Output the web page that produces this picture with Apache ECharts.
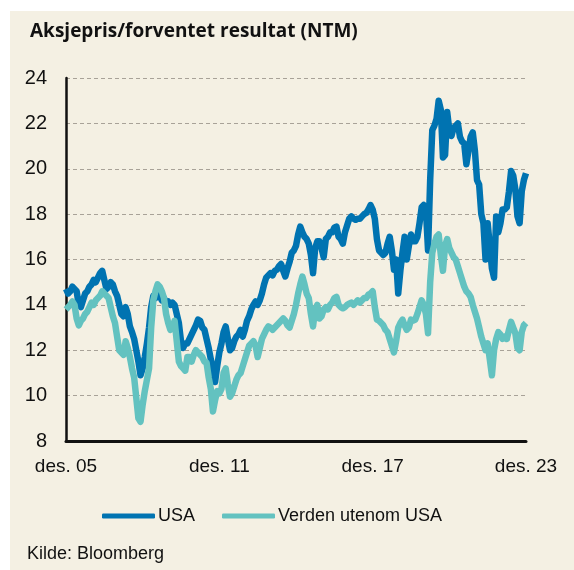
<!DOCTYPE html>
<html>
<head>
<meta charset="utf-8">
<script src="https://cdn.jsdelivr.net/npm/echarts@6/dist/echarts.min.js"></script>
<style>
  html, body { margin: 0; padding: 0; background: #fff; }
  #chart { width: 574px; height: 570px; }
</style>
</head>
<body>
<div id="chart"></div>
<script>
// månedlige observasjoner, des. 2005 - des. 2023
var usa = [
  14.7, 14.5, 14.6, 14.8, 14.7, 14.6, 14.0, 13.9, 14.2, 14.5, 14.6, 14.8,
  14.9, 15.1, 15.0, 15.2, 15.4, 15.5, 15.1, 14.7, 14.8, 15.0, 14.9, 14.6,
  14.4, 14.0, 13.6, 13.5, 13.9, 13.6, 13.05, 12.8, 12.5, 12.0, 11.5, 10.9,
  11.2, 11.7, 12.3, 13.0, 13.9, 14.4, 14.3, 14.6, 14.4, 14.2, 14.3, 14.1,
  14.15, 14.0, 14.1, 14.0, 13.6, 13.2, 12.4, 12.1, 12.3, 12.3, 12.5, 12.7,
  12.9, 13.1, 13.35, 13.3, 13.0, 12.9, 12.5, 12.1, 11.6, 11.2, 10.6, 11.3,
  11.9, 12.3, 12.8, 13.05, 12.5, 12.0, 12.1, 12.4, 12.6, 12.7, 12.9, 12.6,
  12.9, 13.3, 13.5, 13.8, 14.0, 14.15, 14.0, 14.2, 14.5, 14.9, 15.2, 15.3,
  15.4, 15.3, 15.5, 15.55, 15.7, 15.8, 15.5, 15.25, 15.6, 15.9, 16.3, 16.4,
  16.6, 17.1, 17.45, 17.2, 17.0, 16.9, 16.7, 16.2, 15.4, 16.5, 16.8, 16.8,
  16.5, 16.1, 16.9, 17.0, 17.2, 17.2, 17.4, 17.45, 17.0, 16.9, 16.7, 17.2,
  17.5, 17.8, 17.9, 17.8, 17.75, 17.8, 17.8, 17.9, 18.0, 18.05, 18.2, 18.4,
  18.2, 17.8, 16.9, 16.4, 16.3, 16.2, 16.3, 16.7, 17.0, 16.4, 15.55, 16.0,
  14.5, 15.5, 16.3, 17.0, 16.0, 16.6, 17.1, 16.8, 16.8, 17.0, 17.6, 18.3,
  18.4, 18.2, 16.4, 19.5, 21.7, 21.9, 22.2, 23.0, 22.6, 20.5, 20.6, 22.5,
  21.7, 21.45, 21.8, 21.9, 22.0, 21.4, 21.2, 21.1, 20.2, 20.8, 21.4, 21.6,
  20.8, 19.5, 19.3, 18.0, 17.6, 16.0, 17.6, 16.6, 15.6, 15.2, 17.9, 17.2,
  17.6, 18.2, 18.2, 18.3, 19.0, 19.9, 19.7, 19.1, 17.9, 17.6, 19.0, 19.5,
  19.8
];
var verden = [
  13.8, 13.9, 14.0, 14.15, 14.0, 13.4, 13.1, 13.3, 13.4, 13.6, 13.7, 13.9,
  14.1, 14.0, 14.2, 14.3, 14.4, 14.6, 14.5, 14.4, 14.3, 13.9, 13.5, 13.2,
  12.6, 12.0, 11.9, 11.8, 12.4, 12.1, 11.7, 11.2, 10.8, 9.9, 9.0, 8.85,
  9.6, 10.2, 10.7, 11.2, 13.0, 14.2, 14.6, 14.9, 14.8, 14.6, 14.3, 13.6,
  13.2, 12.9, 13.0, 13.3, 12.4, 11.5, 11.3, 11.2, 11.1, 11.7, 11.7, 11.5,
  11.8, 12.0, 11.9, 11.8, 11.7, 11.5, 11.45, 10.8, 10.3, 9.3, 9.8, 10.2,
  10.1, 10.3, 11.0, 11.2, 10.5, 9.95, 10.1, 10.4, 10.7, 10.9, 11.0, 11.3,
  11.6, 11.9, 12.2, 12.3, 12.4, 12.2, 11.7, 12.1, 12.5, 12.7, 12.9, 13.05,
  13.0, 12.9, 13.0, 13.1, 13.2, 13.3, 13.4, 13.3, 13.1, 13.0, 13.3, 13.6,
  14.0, 14.5, 14.9, 15.25, 14.9, 14.5, 14.3, 13.6, 13.05, 13.8, 14.0, 13.4,
  13.5, 13.8, 13.9, 13.8, 14.0, 14.1, 14.3, 14.35, 14.0, 13.9, 13.85, 13.9,
  14.0, 14.05, 14.1, 14.0, 14.1, 14.2, 14.1, 14.2, 14.3, 14.3, 14.45, 14.5,
  14.6, 13.9, 13.35, 13.3, 13.2, 13.1, 12.9, 12.8, 12.5, 12.2, 11.9, 12.4,
  13.0, 13.2, 13.35, 13.1, 12.9, 13.0, 13.35, 13.3, 13.35, 13.6, 13.9, 14.2,
  14.0, 13.6, 12.75, 15.0, 16.3, 16.7, 17.0, 17.1, 16.2, 15.5, 16.6, 16.9,
  16.5, 16.3, 16.1, 16.0, 15.7, 15.4, 15.1, 14.8, 14.6, 14.5, 14.35, 14.0,
  13.7, 13.4, 13.0, 12.6, 12.3, 12.0, 12.3, 11.6, 10.9, 12.0, 12.5, 12.8,
  12.7, 12.5, 12.6, 12.5, 12.9, 13.25, 13.0, 12.75, 12.1, 12.0, 12.8, 13.1,
  13.2
];
var tickLabels = ['des. 05', 'des. 11', 'des. 17', 'des. 23'];
var seriesNames = ['USA', 'Verden utenom USA'];

// kategorier: én per måned
var months = [];
for (var i = 0; i < usa.length; i++) {
  var m = 11 + i;
  months.push((2005 + Math.floor(m / 12)) + '-' + ((m % 12) + 1));
}

var myChart = echarts.init(document.getElementById('chart'));
var labelFont = '"Liberation Sans", Arial, sans-serif';
var option = {
  animation: false,
  color: ['#0073b1', '#63c2c0'],
  title: {
    text: 'Aksjepris/forventet resultat (NTM)',
    left: 25,
    top: 17,
    textStyle: {
      fontFamily: '"Open Sans", sans-serif',
      fontWeight: 'bold',
      fontSize: 19,
      color: '#111'
    }
  },
  graphic: [
    {
      type: 'rect',
      z: -100,
      shape: { x: 10, y: 11, width: 564, height: 559 },
      style: { fill: '#f4f0e3' }
    },
    {
      type: 'text',
      left: 27,
      top: 545,
      style: {
        text: 'Kilde: Bloomberg',
        fontFamily: labelFont,
        fontSize: 18,
        fill: '#111'
      }
    }
  ],
  legend: {
    data: seriesNames,
    top: 502,
    left: 97,
    icon: 'roundRect',
    itemWidth: 53,
    itemHeight: 5,
    itemGap: 27,
    textStyle: {
      fontFamily: labelFont,
      fontSize: 18,
      color: '#111',
      padding: [0, 0, 0, -2]
    }
  },
  grid: {
    left: 66,
    right: 48,
    top: 78,
    bottom: 129
  },
  xAxis: {
    type: 'category',
    data: months,
    boundaryGap: false,
    axisLine: { lineStyle: { color: '#111', width: 3 } },
    axisTick: { show: false },
    axisLabel: {
      interval: function (index) { return index % 72 === 0; },
      formatter: function (val, index) { return tickLabels[index / 72]; },
      fontFamily: labelFont,
      fontSize: 19,
      color: '#111',
      margin: 16
    },
    splitLine: { show: false }
  },
  yAxis: {
    type: 'value',
    min: 8,
    max: 24,
    interval: 2,
    axisLine: { show: true, lineStyle: { color: '#111', width: 2.5 } },
    axisTick: { show: false },
    axisLabel: {
      fontFamily: labelFont,
      fontSize: 20,
      color: '#111',
      margin: 19
    },
    splitLine: {
      lineStyle: { color: '#a8a298', type: [4, 3], width: 1 }
    }
  },
  series: [
    {
      name: seriesNames[0],
      type: 'line',
      data: usa,
      symbol: 'none',
      lineStyle: { width: 6.5, join: 'round' }
    },
    {
      name: seriesNames[1],
      type: 'line',
      data: verden,
      symbol: 'none',
      lineStyle: { width: 6.5, join: 'round' }
    }
  ]
};
myChart.setOption(option);
window.addEventListener('resize', function () {
  myChart.resize();
});
</script>
</body>
</html>
